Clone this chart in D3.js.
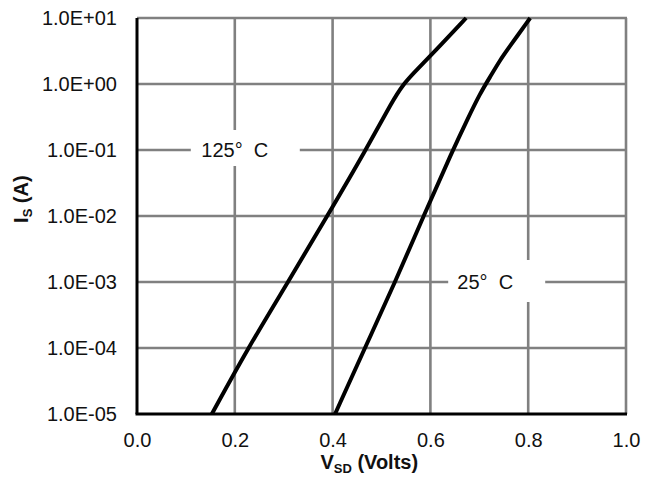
<!DOCTYPE html>
<html>
<head>
<meta charset="utf-8">
<script src="https://cdn.jsdelivr.net/npm/d3@7"></script>
<style>
  html, body { margin: 0; padding: 0; background: #fff; }
  svg { display: block; font-family: "Liberation Sans", Arial, sans-serif; }
</style>
</head>
<body>
<div id="chart"></div>
<script>
// ---- data ----
const xTicks = [0.0, 0.2, 0.4, 0.6, 0.8, 1.0];
const xTickLabels = ["0.0", "0.2", "0.4", "0.6", "0.8", "1.0"];
const yTicks = [1e1, 1e0, 1e-1, 1e-2, 1e-3, 1e-4, 1e-5];
const yTickLabels = ["1.0E+01", "1.0E+00", "1.0E-01", "1.0E-02", "1.0E-03", "1.0E-04", "1.0E-05"];

// 125 °C curve: V_SD (V) vs I_S (A)
const v125 = [0.153, 0.227, 0.309, 0.389, 0.468, 0.5235, 0.544, 0.562, 0.6115, 0.673];
const i125 = [1e-5, 1e-4, 1e-3, 1e-2, 1e-1, 0.572, 0.966, 1.37, 3.27, 1e1];
// 25 °C curve
const v25 = [0.405, 0.466, 0.528, 0.586, 0.646, 0.677, 0.701, 0.722, 0.744, 0.757, 0.804];
const i25 = [1e-5, 1e-4, 1e-3, 1e-2, 1e-1, 0.305, 0.706, 1.28, 2.39, 3.27, 1e1];

const labelTexts = ["125°\u00a0\u00a0C", "25°\u00a0\u00a0C"];
const labelV = [0.2, 0.8];
const labelI = [1e-1, 1e-3];

// ---- layout ----
const W = 652, H = 478;
const m = { left: 137, top: 18, right: 26, bottom: 64 };
const pw = W - m.left - m.right;   // 489
const ph = H - m.top - m.bottom;   // 396
const FS = 20;

const svg = d3.select("#chart").append("svg").attr("width", W).attr("height", H);
const g = svg.append("g").attr("transform", `translate(${m.left},${m.top})`);

const x = d3.scaleLinear().domain([0, 1]).range([0, pw]);
const y = d3.scaleLog().domain([1e-5, 1e1]).range([ph, 0]);

// gridlines
const grid = g.append("g").attr("stroke", "#808080").attr("stroke-width", 2.6);
grid.selectAll("line.v").data(xTicks.slice(1)).join("line")
  .attr("x1", d => x(d)).attr("x2", d => x(d))
  .attr("y1", 0).attr("y2", ph);
grid.selectAll("line.h").data(yTicks.slice(0, -1)).join("line")
  .attr("x1", 0).attr("x2", pw + 1)
  .attr("y1", d => y(d)).attr("y2", d => y(d));

// label boxes (white, breaking gridlines) and texts
const labelData = labelTexts.map((t, i) => ({ t, v: labelV[i], I: labelI[i], k: i }));
const boxes = [
  { dx0: -44, dx1: 65, dy0: -20, dy1: 16, tx: 0 },
  { dx0: -80, dx1: 17, dy0: -22, dy1: 20, tx: -43 }
];
g.selectAll("rect.lbl").data(labelData).join("rect")
  .attr("x", d => x(d.v) + boxes[d.k].dx0)
  .attr("y", d => y(d.I) + boxes[d.k].dy0)
  .attr("width", d => boxes[d.k].dx1 - boxes[d.k].dx0)
  .attr("height", d => boxes[d.k].dy1 - boxes[d.k].dy0)
  .attr("fill", "#fff");
g.selectAll("text.lbl").data(labelData).join("text")
  .attr("x", d => x(d.v) + boxes[d.k].tx)
  .attr("y", d => y(d.I))
  .attr("dy", "0.36em")
  .attr("text-anchor", "middle")
  .attr("font-size", FS)
  .attr("fill", "#111")
  .text(d => d.t);

// curves
const line = d3.line().x(d => x(d[0])).y(d => y(d[1])).curve(d3.curveBasis);
g.append("path").datum(v125.map((v, i) => [v, i125[i]]))
  .attr("d", line).attr("fill", "none").attr("stroke", "#000").attr("stroke-width", 4);
g.append("path").datum(v25.map((v, i) => [v, i25[i]]))
  .attr("d", line).attr("fill", "none").attr("stroke", "#000").attr("stroke-width", 4);

// axes (black lines, no tick marks)
const xAxis = g.append("g").attr("transform", `translate(0,${ph})`)
  .call(d3.axisBottom(x).tickValues(xTicks).tickSize(0).tickPadding(19)
    .tickFormat((d, i) => xTickLabels[i]));
xAxis.select(".domain").attr("stroke", "#000").attr("stroke-width", 3)
  .attr("d", `M-1.5,0H${pw + 1}`);
xAxis.selectAll("text").attr("font-size", FS).attr("fill", "#111")
  .attr("font-family", "Liberation Sans, Arial, sans-serif");

const yAxis = g.append("g")
  .call(d3.axisLeft(y).tickValues(yTicks).tickSize(0).tickPadding(20)
    .tickFormat((d, i) => yTickLabels[i]));
yAxis.select(".domain").attr("stroke", "#000").attr("stroke-width", 3)
  .attr("d", `M0,0V${ph}`);
yAxis.selectAll("text").attr("font-size", FS).attr("fill", "#111")
  .attr("font-family", "Liberation Sans, Arial, sans-serif");

// axis titles
const xt = svg.append("text")
  .attr("x", m.left + x(0.475)).attr("y", 469)
  .attr("text-anchor", "middle").attr("font-size", FS).attr("font-weight", "bold").attr("fill", "#111");
xt.append("tspan").text("V");
xt.append("tspan").attr("font-size", 13).attr("dy", 4).text("SD");
xt.append("tspan").attr("dy", -4).text(" (Volts)");

const yt = svg.append("text")
  .attr("transform", `translate(28,${m.top + y(0.018)}) rotate(-90)`)
  .attr("text-anchor", "middle").attr("font-size", FS).attr("font-weight", "bold").attr("fill", "#111");
yt.append("tspan").text("I");
yt.append("tspan").attr("font-size", 13).attr("dy", 4).text("S");
yt.append("tspan").attr("dy", -4).text(" (A)");
</script>
</body>
</html>
